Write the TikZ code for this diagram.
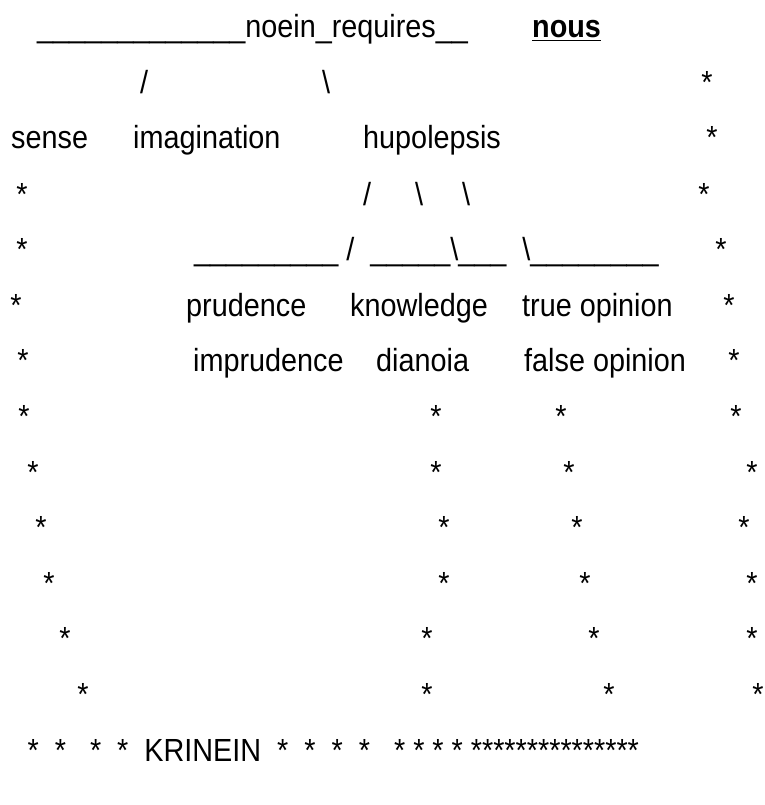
\documentclass[tikz,border=0pt]{standalone}
\usepackage{fontspec}
\setmainfont{Liberation Sans}[FakeStretch=0.9]
\usetikzlibrary{positioning}
\newcommand{\artfont}{\fontsize{32}{38}\selectfont}

\begin{document}
\begin{tikzpicture}[x=1pt,y=-1pt,
  word/.style={anchor=base west,inner sep=0pt,font=\artfont},
  glyph/.style={anchor=base,inner sep=0pt,font=\artfont}
]
  \useasboundingbox (0,0) rectangle (764,805);
  % top line
  \node[word] (noein) at (37,38) {\_\_\_\_\_\_\_\_\_\_\_\_\_noein\_requires\_\_};
  \node[word] (nous) at (532,38) {\underline{\textbf{nous}}};
  \node[glyph] (sl2) at (144,93.5) {/};
  \node[glyph] (bs2) at (326,93.5) {\textbackslash};
  \node[glyph] (st2) at (707,93.5) {*};
  % faculties
  \node[word] (sense) at (11,149) {sense};
  \node[word] (imagination) at (133,149) {imagination};
  \node[word] (hupolepsis) at (363,149) {hupolepsis};
  \node[glyph] (st3) at (712,149) {*};
  \node[glyph] (st4a) at (22,205) {*};
  \node[glyph] (sl4) at (367,205) {/};
  \node[glyph] (bs4a) at (419,205) {\textbackslash};
  \node[glyph] (bs4b) at (466,205) {\textbackslash};
  \node[glyph] (st4b) at (704,205) {*};
  \node[glyph] (st5a) at (22,260.5) {*};
  \node[word] (branches) at (194,260.5) {\_\_\_\_\_\_\_\_\_\ /\ \ \_\_\_\_\_\textbackslash\_\_\_\ \ \textbackslash\_\_\_\_\_\_\_\_};
  \node[glyph] (st5b) at (721,260.5) {*};
  % kinds of hupolepsis
  \node[glyph] (st6a) at (16,316) {*};
  \node[word] (prudence) at (186,316) {prudence};
  \node[word] (knowledge) at (350,316) {knowledge};
  \node[word] (trueop) at (522,316) {true opinion};
  \node[glyph] (st6b) at (729,316) {*};
  \node[glyph] (st7a) at (23,371.5) {*};
  \node[word] (imprudence) at (193,371.5) {imprudence};
  \node[word] (dianoia) at (376,371.5) {dianoia};
  \node[word] (falseop) at (524,371.5) {false opinion};
  \node[glyph] (st7b) at (734,371.5) {*};
  % star columns down to krinein
  \foreach \r/\y/\a/\b/\c/\d in {8/427/24/436/561/736, 9/483/33/436/569/752,
      10/538.5/41/444/577/744, 11/594/49/444/585/752, 12/649.5/65/427/594/752,
      13/705/83/427/609/758} {
    \node[glyph] (st\r a) at (\a,\y) {*};
    \node[glyph] (st\r b) at (\b,\y) {*};
    \node[glyph] (st\r c) at (\c,\y) {*};
    \node[glyph] (st\r d) at (\d,\y) {*};
  }
  \node[word] (krinein) at (27.4,761) {*\ \ *\ \ \ *\ \ *\ \ KRINEIN\ \ *\ \ *\ \ *\ \ *\ \ \ *\ *\ *\ *\ ***************};
\end{tikzpicture}
\end{document}
